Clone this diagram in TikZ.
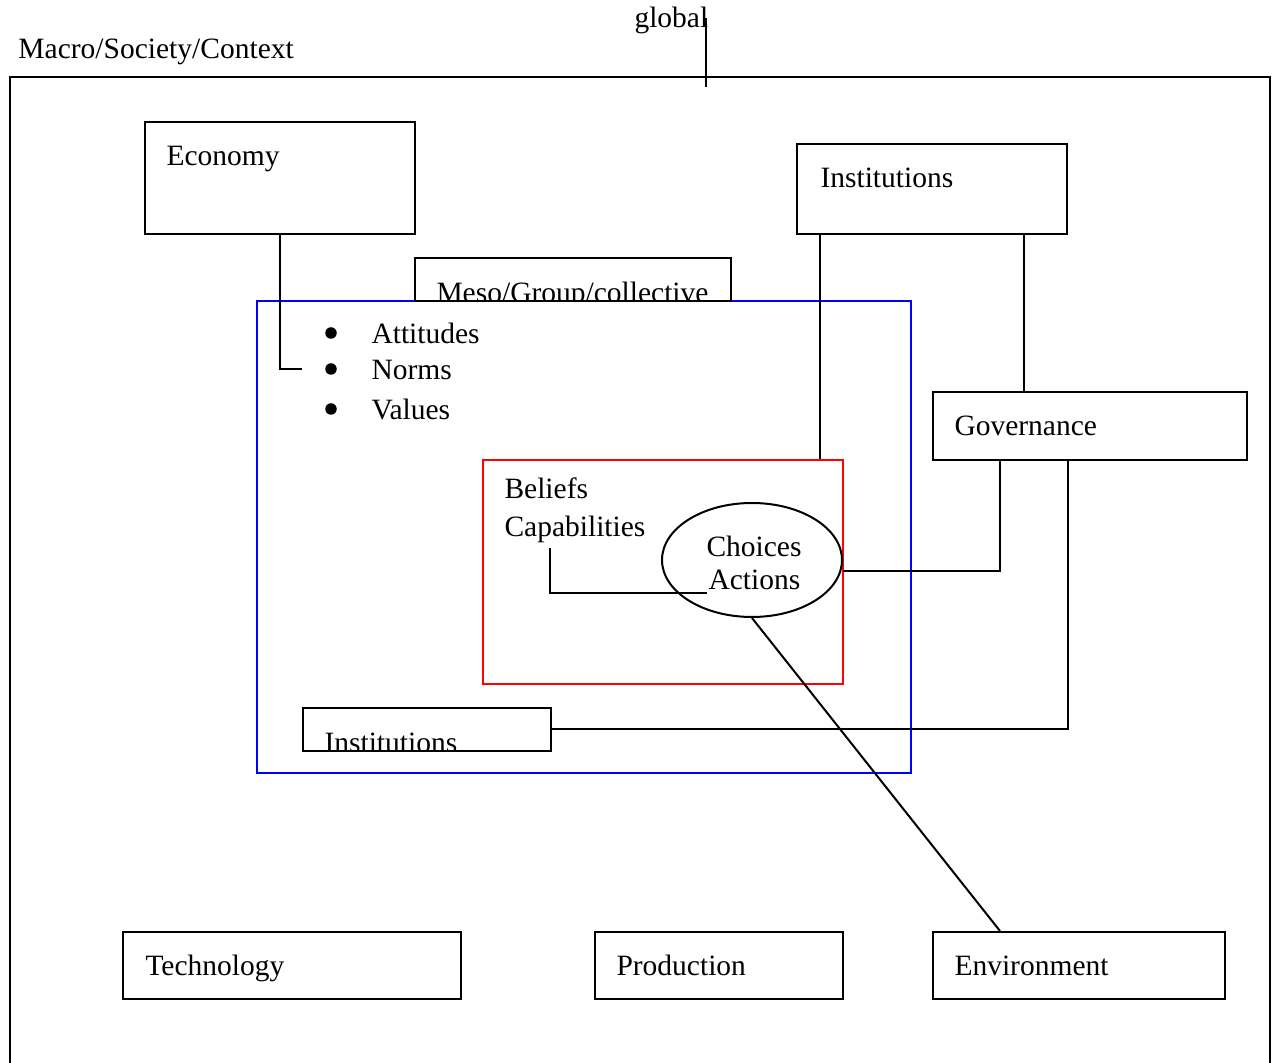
\documentclass[tikz,border=0pt]{standalone}
\usepackage{fontspec}
\setmainfont{Liberation Serif}
\usetikzlibrary{shapes.geometric, calc}
\tikzstyle{sector} = [rectangle, anchor=north west, draw=black, line width=0.8pt, inner sep=0pt]
\tikzstyle{level} = [rectangle, anchor=north west, line width=0.8pt, inner sep=0pt]
\tikzstyle{txt} = [anchor=base west, inner sep=0pt]
\tikzstyle{dot} = [circle, fill=black, inner sep=0pt, minimum size=4.6pt]
\tikzstyle{link} = [line width=0.8pt]

\begin{document}
\begin{tikzpicture}[x=0.4pt, y=-0.4pt, font=\fontsize{11.8pt}{13.6pt}\selectfont]
    \useasboundingbox (0,0) rectangle (1274,1063);

    % macro level (frame runs off the bottom)
    \draw[link] (10,1063) -- (10,77) -- (1270,77) -- (1270,1063);
    \node[txt] (macro) at (18,59) {Macro/Society/Context};
    \node[txt] (global) at (634,28) {global};
    \coordinate (gtop) at (706,18);
    \coordinate (gbot) at (706,87);
    \draw[link] (gtop) -- (gbot);

    % meso and micro frames
    \node[level, draw=blue, minimum width=261.6pt, minimum height=188.8pt] (group) at (256,300) {};
    \node[level, draw=red, minimum width=144pt, minimum height=89.6pt] (indiv) at (482,459) {};
    \node[ellipse, draw=black, line width=0.8pt, inner sep=0pt,
          minimum width=72pt, minimum height=45.6pt] (choice) at (752,560) {};

    \node[sector, minimum width=108pt, minimum height=44.8pt] (econ) at (144,121) {};
    \node[sector, minimum width=108pt, minimum height=36pt] (inst) at (796,143) {};
    \node[sector, minimum width=126.4pt, minimum height=17.2pt] (meso) at (414,257) {};
    \node[sector, minimum width=125.6pt, minimum height=27.2pt] (gov) at (932,391) {};
    \node[sector, minimum width=99.2pt, minimum height=17.2pt] (inst2) at (302,707) {};
    \node[sector, minimum width=135.2pt, minimum height=26.8pt] (tech) at (122,931) {};
    \node[sector, minimum width=99.2pt, minimum height=26.8pt] (prod) at (594,931) {};
    \node[sector, minimum width=116.8pt, minimum height=26.8pt] (env) at (932,931) {};

    % box labels
    \node[txt] (econtxt) at ([shift={(22,45)}]econ.north west) {Economy};
    \node[txt] (insttxt) at ([shift={(24,45)}]inst.north west) {Institutions};
    \node[txt] (govtxt) at ([shift={(22,45)}]gov.north west) {Governance};
    \node[txt] (techtxt) at ([shift={(23,45)}]tech.north west) {Technology};
    \node[txt] (prodtxt) at ([shift={(22,45)}]prod.north west) {Production};
    \node[txt] (envtxt) at ([shift={(22,45)}]env.north west) {Environment};
    \begin{scope}
        \clip (meso.north west) rectangle (meso.south east);
        \node[txt] (mesotxt) at ([shift={(22,46)}]meso.north west) {Meso/Group/collective};
    \end{scope}
    \begin{scope}
        \clip (inst2.north west) rectangle (inst2.south east);
        \node[txt] (inst2txt) at ([shift={(22,46)}]inst2.north west) {Institutions};
    \end{scope}

    % group list
    \node[dot] (attb) at (331,333) {};
    \node[dot] (normb) at (331,369) {};
    \node[dot] (valb) at (331,409) {};
    \node[txt] (att) at (371,344) {Attitudes};
    \node[txt] (norm) at (371,380) {Norms};
    \node[txt] (val) at (371,420) {Values};

    % individual
    \node[txt] (beliefs) at (504,499) {Beliefs};
    \node[txt] (capab) at (504,537) {Capabilities};
    \node[txt] (choices) at (706,557) {Choices};
    \node[txt] (actions) at (708,590) {Actions};

    % connectors
    \coordinate (normsin) at (302,369);
    \coordinate (capfoot) at (550,548);
    \coordinate (actfoot) at (707,593);
    \coordinate (instfoot) at ([xshift=9.6pt]inst.south west);
    \coordinate (govroot) at ([xshift=-17.6pt]inst.south east);
    \coordinate (govleft) at ([xshift=27.2pt]gov.south west);
    \coordinate (govright) at ([xshift=-72pt]gov.south east);
    \coordinate (envtop) at ([xshift=27.2pt]env.north west);

    \draw[link] (econ.south) |- (normsin);
    \draw[link] (instfoot) -- (instfoot |- indiv.north);
    \draw[link] (govroot) -- (govroot |- gov.north);
    \draw[link] (govleft) |- ([yshift=-4.4pt]choice.east);
    \draw[link] (govright) |- (inst2.east);
    \draw[link] (capfoot) |- (actfoot);
    \draw[link] (choice.south) -- (envtop);
\end{tikzpicture}
\end{document}
